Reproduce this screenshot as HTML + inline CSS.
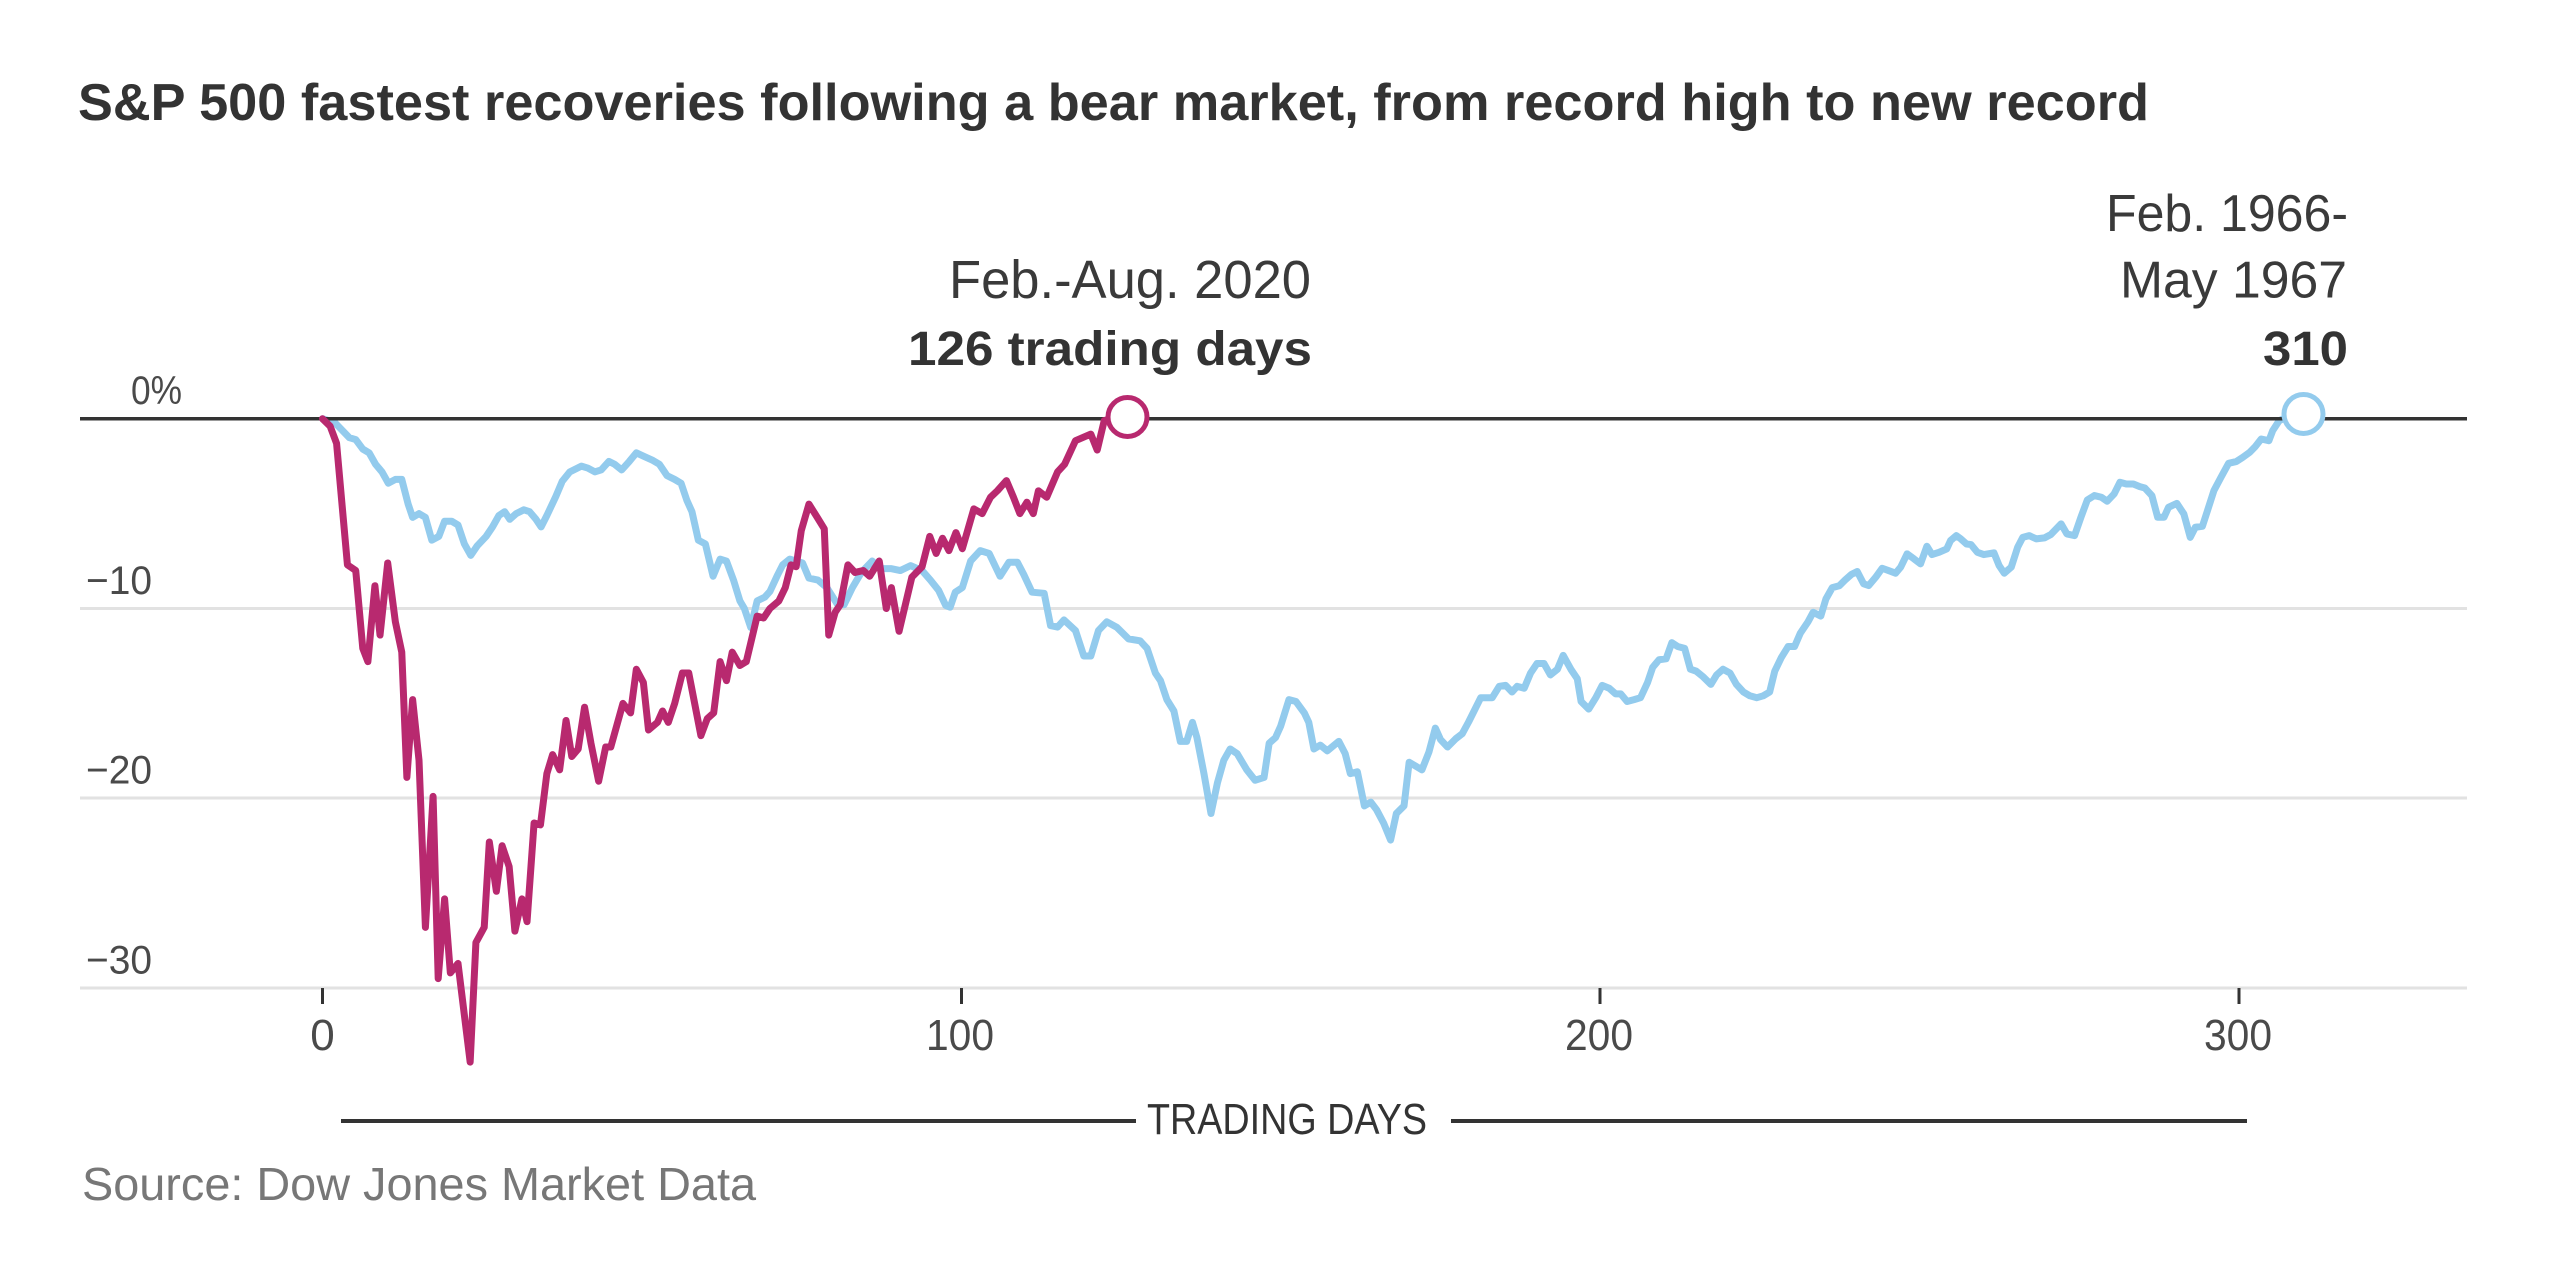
<!DOCTYPE html>
<html>
<head>
<meta charset="utf-8">
<style>
  html, body { margin: 0; padding: 0; background: #ffffff; }
  svg { display: block; }
  text { font-family: "Liberation Sans", Arial, sans-serif; }
</style>
</head>
<body>
<svg width="2560" height="1280" viewBox="0 0 2560 1280" xmlns="http://www.w3.org/2000/svg">
  <rect x="0" y="0" width="2560" height="1280" fill="#ffffff"/>

  <!-- Title -->
  <text x="78" y="120" font-size="52" font-weight="bold" fill="#333333" textLength="2071" lengthAdjust="spacingAndGlyphs">S&amp;P 500 fastest recoveries following a bear market, from record high to new record</text>

  <!-- Gridlines -->
  <line x1="80" y1="608.5" x2="2467" y2="608.5" stroke="#e2e2e2" stroke-width="3"/>
  <line x1="80" y1="798" x2="2467" y2="798" stroke="#e2e2e2" stroke-width="3"/>
  <line x1="80" y1="988" x2="2467" y2="988" stroke="#e2e2e2" stroke-width="3"/>

  <!-- Y labels -->
  <text x="131" y="404" font-size="40" fill="#4a4a4a" textLength="51" lengthAdjust="spacingAndGlyphs">0%</text>
  <text x="86" y="594" font-size="40" fill="#4a4a4a" textLength="66" lengthAdjust="spacingAndGlyphs">−10</text>
  <text x="86" y="783.5" font-size="40" fill="#4a4a4a" textLength="66" lengthAdjust="spacingAndGlyphs">−20</text>
  <text x="86" y="973.3" font-size="40" fill="#4a4a4a" textLength="66" lengthAdjust="spacingAndGlyphs">−30</text>

  <!-- X ticks -->
  <g stroke="#333333" stroke-width="3">
    <line x1="322.5" y1="988" x2="322.5" y2="1004"/>
    <line x1="961.5" y1="988" x2="961.5" y2="1004"/>
    <line x1="1600" y1="988" x2="1600" y2="1004"/>
    <line x1="2239" y1="988" x2="2239" y2="1004"/>
  </g>
  <g font-size="44" fill="#4a4a4a" text-anchor="middle">
    <text x="322.5" y="1050">0</text>
    <text x="960" y="1050" textLength="68" lengthAdjust="spacingAndGlyphs">100</text>
    <text x="1599" y="1050" textLength="68" lengthAdjust="spacingAndGlyphs">200</text>
    <text x="2238" y="1050" textLength="68" lengthAdjust="spacingAndGlyphs">300</text>
  </g>

  <!-- Axis title -->
  <line x1="341" y1="1121" x2="1136" y2="1121" stroke="#333333" stroke-width="4"/>
  <line x1="1451" y1="1121" x2="2247" y2="1121" stroke="#333333" stroke-width="4"/>
  <text x="1147" y="1134" font-size="44" fill="#333333" textLength="280" lengthAdjust="spacingAndGlyphs">TRADING DAYS</text>

  <!-- Source -->
  <text x="82" y="1200" font-size="46" fill="#777777" textLength="674" lengthAdjust="spacingAndGlyphs">Source: Dow Jones Market Data</text>

  <!-- Blue series (1966-67) -->
  <g transform="translate(322.5,418.7) scale(6.392,18.98)">
    <polyline fill="none" stroke="#93cbed" stroke-width="7" stroke-linejoin="round" stroke-linecap="round" vector-effect="non-scaling-stroke" points="
0,0 1.9,0.2 3.2,0.65 4.2,1.0 5.2,1.1 6.3,1.6 7.3,1.8 8.3,2.4 9.3,2.8 10.3,3.4 11.4,3.2 12.4,3.2 13.4,4.5 14.1,5.2 15.1,5.0 16.1,5.2 17.1,6.4 18.2,6.2 19.1,5.4 20.2,5.4 21.2,5.6 22.2,6.6 23.2,7.2 24.2,6.7 25.6,6.2 26.6,5.7 27.6,5.1 28.5,4.9 29.3,5.3 30.3,5.0 31.5,4.8 32.4,4.9 33.4,5.3 34.2,5.7 35.1,5.1 36.5,4.1 37.5,3.3 38.7,2.8 40.5,2.5 41.5,2.6 42.6,2.8 43.6,2.7 44.8,2.25 45.7,2.4 46.8,2.7 48,2.25 49.1,1.8 50.4,2.0 51.7,2.2 52.7,2.4 53.9,3.0 55.1,3.2 56.1,3.4 57,4.3 57.8,4.9 58.8,6.4 59.9,6.6 61.1,8.3 62.2,7.4 63.2,7.5 64.3,8.5 65.3,9.6 66,10.0 67,11.0 68,9.6 69.2,9.4 70,9.1 71.1,8.3 72,7.7 73.1,7.4 74.1,7.5 75.1,7.6 76.1,8.4 77.5,8.5 78.9,8.9 80.6,9.8 81.6,9.8 82.9,8.9 84.3,8.1 86,7.5 87.3,7.9 89,7.9 90.4,8.0 92,7.74 93.8,8.0 95.1,8.5 96.4,9.05 97.5,9.84 98.2,9.93 99,9.14 100.1,8.9 101.4,7.5 102.9,6.95 104.3,7.1 106,8.3 107.4,7.56 108.7,7.56 109.7,8.2 111,9.14 112.9,9.2 113.9,10.9 115,10.98 116,10.6 117.8,11.16 119.1,12.5 120.2,12.5 121.4,11.16 122.7,10.7 124.3,11.0 126.1,11.6 127.9,11.7 129,12.1 130.3,13.4 131.1,13.8 132.1,14.8 133.2,15.4 134.2,17.0 135.2,17.0 136.1,16.0 136.8,16.8 137.9,18.7 139,20.8 140,19.2 141,18.0 142,17.4 143.1,17.65 144.6,18.5 145.9,19.05 147.3,18.9 148.1,17.1 149.1,16.8 149.9,16.2 151.2,14.8 152.3,14.9 153.6,15.5 154.3,16.0 155.1,17.4 156.1,17.2 157.2,17.5 159,17.0 160,17.65 160.8,18.7 161.9,18.6 163,20.4 164,20.2 164.9,20.6 166,21.3 167.1,22.2 168,20.8 169.2,20.4 170,18.1 171,18.3 172,18.5 173.1,17.56 174.1,16.3 174.9,16.9 176,17.3 177.3,16.86 178.3,16.6 179.3,15.98 181.2,14.7 183,14.7 184.1,14.1 185.1,14.05 186.1,14.4 186.9,14.1 188,14.2 189,13.4 190,12.9 191.1,12.9 192.1,13.5 193.2,13.2 194.1,12.47 195.3,13.2 196.3,13.7 196.9,14.9 198.1,15.3 199.2,14.7 200.2,14.05 201.3,14.2 202.3,14.5 203.1,14.5 204.1,14.9 205.2,14.8 206.2,14.7 207.3,13.9 208.1,13.1 209.1,12.7 210.2,12.65 211.1,11.8 212,12.0 213.1,12.1 214,13.2 214.9,13.3 216,13.6 217.2,14.0 218.1,13.5 219.1,13.2 220.2,13.4 221.2,14.0 222.3,14.4 223.3,14.6 224.4,14.7 225.4,14.6 226.4,14.4 227.2,13.3 228.2,12.6 229.3,12.0 230.3,12.0 231.2,11.3 232.4,10.7 233.2,10.2 234.4,10.4 235.2,9.5 236.2,8.9 237.3,8.8 238.2,8.5 239.2,8.2 240.1,8.05 241.1,8.7 241.9,8.79 243,8.35 244,7.88 245,8.0 246.1,8.14 246.9,7.82 247.9,7.12 249,7.39 250,7.65 251,6.72 251.8,7.16 252.9,7.04 254.1,6.86 254.7,6.42 255.6,6.16 256.3,6.33 257.2,6.6 257.9,6.63 258.9,7.04 259.9,7.16 261.5,7.07 262.3,7.74 263.1,8.14 264.2,7.82 265.2,6.77 266,6.25 267,6.16 268.1,6.33 269.4,6.28 270.4,6.1 272,5.54 272.9,6.07 274.1,6.16 275.1,5.19 276.1,4.28 277.2,4.05 278.3,4.14 279.2,4.35 280.3,3.96 281.2,3.35 282.2,3.44 283.3,3.44 284.3,3.58 285.1,3.65 286.2,4.05 287.1,5.19 288.1,5.19 288.8,4.67 290.1,4.46 291.2,5.02 292.2,6.25 293,5.72 294.1,5.67 294.9,4.84 295.9,3.79 297,3.09 298.2,2.35 299.4,2.26 300.4,2.04 301.5,1.77 302.4,1.46 303.3,1.07 304.5,1.16 305.1,0.63 306.1,0.11 307.2,-0.07 310,-0.25"/>
  </g>

  <!-- Zero line -->
  <line x1="80" y1="418.7" x2="2467" y2="418.7" stroke="#333333" stroke-width="3.5"/>

  <!-- Red series (2020) -->
  <g transform="translate(322.5,418.7) scale(6.392,18.98)">
    <polyline fill="none" stroke="#b8296f" stroke-width="7" stroke-linejoin="round" stroke-linecap="round" vector-effect="non-scaling-stroke" points="
0,0 1.2,0.4 2.2,1.3 3.9,7.7 5.2,8.0 6.3,12.1 7.1,12.8 8.2,8.8 9,11.4 10.2,7.6 11.4,10.7 12.4,12.3 13.2,18.9 14.1,14.8 15.1,18.0 16.1,26.8 17.3,19.9 18.1,29.5 19.1,25.3 20,29.2 21.2,28.7 23.1,33.9 24,27.6 25.3,26.8 26.1,22.3 27.2,24.9 28.1,22.5 29.2,23.6 30.1,27.0 31.2,25.3 32,26.5 33.1,21.3 34.1,21.4 35.1,18.7 36,17.7 37.1,18.5 38.1,15.9 39,17.8 40,17.4 41,15.2 42,17.1 43.2,19.1 44.3,17.3 45.1,17.3 47,15.0 48.2,15.5 49.1,13.2 50.2,13.9 51,16.4 52.4,16.0 53.2,15.4 54.1,16.0 55.1,15.0 56.3,13.4 57.3,13.4 59.2,16.7 60.2,15.8 61.2,15.5 62.2,12.8 63.2,13.8 64.1,12.3 65.3,13.0 66.3,12.8 68,10.4 69,10.5 70,10.0 71.4,9.6 72.4,8.9 73.3,7.7 74.1,7.8 74.9,5.9 76.1,4.5 77.4,5.2 78.5,5.8 79.2,11.4 80.2,10.2 81,9.8 82.2,7.7 83.3,8.1 84.6,8.0 85.6,8.3 87.1,7.5 88.2,10.0 89,8.9 90.2,11.2 92.2,8.35 93.8,7.8 95,6.2 96,7.1 97,6.3 98,6.95 99.1,6.0 100.1,6.85 101.9,4.75 103.2,5.0 104.5,4.14 105.6,3.79 107,3.26 108.1,4.14 109.1,5.0 110.2,4.4 111.2,5.0 112,3.8 113.3,4.14 115,2.8 116.1,2.4 117.8,1.16 120.2,0.81 121.2,1.65 122.3,0.1 123.3,0 126,0"/>
  </g>

  <!-- End markers -->
  <circle cx="1127.5" cy="417" r="19.5" fill="#ffffff" stroke="#b8296f" stroke-width="5"/>
  <circle cx="2303.5" cy="414" r="19.5" fill="#ffffff" stroke="#93cbed" stroke-width="5"/>

  <!-- Annotations -->
  <text x="1311" y="298" font-size="54" fill="#3a3a3a" text-anchor="end" textLength="362" lengthAdjust="spacingAndGlyphs">Feb.-Aug. 2020</text>
  <text x="1312" y="365" font-size="48" font-weight="bold" fill="#333333" text-anchor="end" textLength="404" lengthAdjust="spacingAndGlyphs">126 trading days</text>

  <text x="2348" y="231" font-size="52" fill="#3a3a3a" text-anchor="end" textLength="242" lengthAdjust="spacingAndGlyphs">Feb. 1966-</text>
  <text x="2347" y="297.5" font-size="52" fill="#3a3a3a" text-anchor="end" textLength="227" lengthAdjust="spacingAndGlyphs">May 1967</text>
  <text x="2348" y="365" font-size="48" font-weight="bold" fill="#333333" text-anchor="end" textLength="85" lengthAdjust="spacingAndGlyphs">310</text>
</svg>
</body>
</html>
